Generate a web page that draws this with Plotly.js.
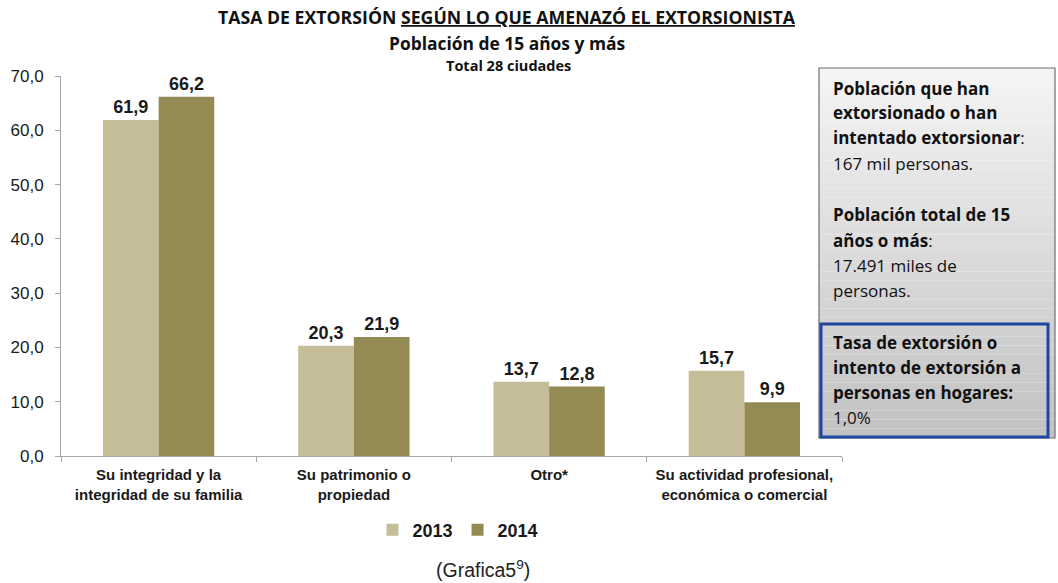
<!DOCTYPE html>
<html><head><meta charset="utf-8">
<script src="https://cdn.plot.ly/plotly-3.0.1.min.js"></script>
<style>body{margin:0;background:#fff}#c{width:1058px;height:583px}</style>
</head><body><div id="c"></div>
<script>
const categories = ["Su integridad y la<br>integridad de su familia", "Su patrimonio o<br>propiedad", "Otro*", "Su actividad profesional,<br>económica o comercial"];
const series2013 = [61.9, 20.3, 13.7, 15.7];
const series2014 = [66.2, 21.9, 12.8, 9.9];
const seriesNames = ["2013", "2014"];
const yTicks = [0, 10, 20, 30, 40, 50, 60, 70];

const W = 1058, H = 583;
const M = {l: 61, r: 216, t: 76, b: 127};
const px = x => (x - M.l) / (W - M.l - M.r);
const py = y => (H - M.b - y) / (H - M.t - M.b);

const barText = {family: "Liberation Sans, Arial", size: 18, color: "#1a1a1a", weight: 700};
const traces = [
  {type: "bar", name: seriesNames[0], x: categories, y: series2013, marker: {color: "#c4bd97"},
   texttemplate: "<b>%{y:.1f}</b>", textposition: "outside", textfont: barText, cliponaxis: false, hoverinfo: "none"},
  {type: "bar", name: seriesNames[1], x: categories, y: series2014, marker: {color: "#948a54"},
   texttemplate: "<b>%{y:.1f}</b>", textposition: "outside", textfont: barText, cliponaxis: false, hoverinfo: "none"}
];

const shapes = [];
// gradient box
const bx0 = 819, bx1 = 1055, by0 = 68, by1 = 438, N = 40;
for (let i = 0; i < N; i++) {
  const t = i / (N - 1);
  const c = Math.round(244 - t * 50);
  shapes.push({type: "rect", xref: "paper", yref: "paper", layer: "below",
    x0: px(bx0), x1: px(bx1), y0: py(by0 + (by1 - by0) * i / N), y1: py(by0 + (by1 - by0) * (i + 1) / N),
    fillcolor: `rgb(${c},${c},${c})`, line: {width: 0}});
}
shapes.push({type: "rect", xref: "paper", yref: "paper", x0: px(bx0), x1: px(bx1), y0: py(by0), y1: py(by1),
  line: {color: "#6e6e6e", width: 1.2}});
shapes.push({type: "rect", xref: "paper", yref: "paper", x0: px(821), x1: px(1048), y0: py(324), y1: py(437),
  line: {color: "#1f47a0", width: 3}});

const boxFont = {family: "Open Sans, Noto Sans", size: 17, color: "#111"};
const boxLines = [
  [88, "<b>Población que han</b>"],
  [113, "<b>extorsionado o han</b>"],
  [138, "<b>intentado extorsionar</b>:"],
  [163, "167 mil personas."],
  [214, "<b>Población total de 15</b>"],
  [240, "<b>años o más</b>:"],
  [265, "17.491 miles de"],
  [290, "personas."],
  [342, "<b>Tasa de extorsión o</b>"],
  [367, "<b>intento de extorsión a</b>"],
  [392, "<b>personas en hogares:</b>"],
  [417, "1,0%"]
];
const annotations = boxLines.map(([y, t]) => ({xref: "paper", yref: "paper", x: px(831), y: py(y),
  xanchor: "left", yanchor: "middle", text: t, showarrow: false, font: boxFont}));

annotations.push({xref: "paper", yref: "paper", x: px(507), y: py(17), xanchor: "center", yanchor: "middle",
  text: "<b>TASA DE EXTORSIÓN <u>SEGÚN LO QUE AMENAZÓ EL EXTORSIONISTA</u></b>", showarrow: false,
  font: {family: "Open Sans, Noto Sans", size: 17.7, color: "#111"}});
annotations.push({xref: "paper", yref: "paper", x: px(507), y: py(43), xanchor: "center", yanchor: "middle",
  text: "<b>Población de 15 años y más</b>", showarrow: false,
  font: {family: "Open Sans, Noto Sans", size: 17.4, color: "#111"}});
annotations.push({xref: "paper", yref: "paper", x: px(508), y: py(65), xanchor: "center", yanchor: "middle",
  text: "<b>Total 28 ciudades</b>", showarrow: false,
  font: {family: "Open Sans, Noto Sans", size: 14.5, color: "#111"}});
annotations.push({xref: "paper", yref: "paper", x: px(483), y: py(569), xanchor: "center", yanchor: "middle",
  text: "(Grafica5<sup>9</sup>)", showarrow: false,
  font: {family: "Liberation Sans, Arial", size: 19.5, color: "#222"}});

const layout = {
  width: W, height: H, margin: M, paper_bgcolor: "#fff", plot_bgcolor: "#fff",
  separators: ",.",
  barmode: "group", bargap: 0.43, bargroupgap: 0,
  showlegend: true,
  legend: {orientation: "h", xref: "paper", yref: "paper", x: px(458), y: py(530), xanchor: "center", yanchor: "middle",
    font: {family: "Liberation Sans, Arial", size: 18, color: "#1a1a1a", weight: 700}, itemwidth: 30, traceorder: "normal"},
  xaxis: {type: "category", showline: true, linecolor: "#a6a6a6", linewidth: 1, ticks: "outside", tickson: "boundaries",
    ticklen: 5, tickcolor: "#a6a6a6", showgrid: false, ticklabelstandoff: 5,
    tickfont: {family: "Liberation Sans, Arial", size: 15, color: "#1a1a1a", weight: 700}},
  yaxis: {range: [0, 70], tickvals: yTicks, tickformat: ".1f", showline: true, linecolor: "#a6a6a6", linewidth: 1,
    ticks: "outside", ticklen: 5, tickcolor: "#a6a6a6", showgrid: false, zeroline: false, ticklabelstandoff: 8,
    tickfont: {family: "Liberation Sans, Arial", size: 17, color: "#1a1a1a"}},
  shapes: shapes, annotations: annotations
};
Plotly.newPlot("c", traces, layout, {displayModeBar: false, staticPlot: true});
</script></body></html>
